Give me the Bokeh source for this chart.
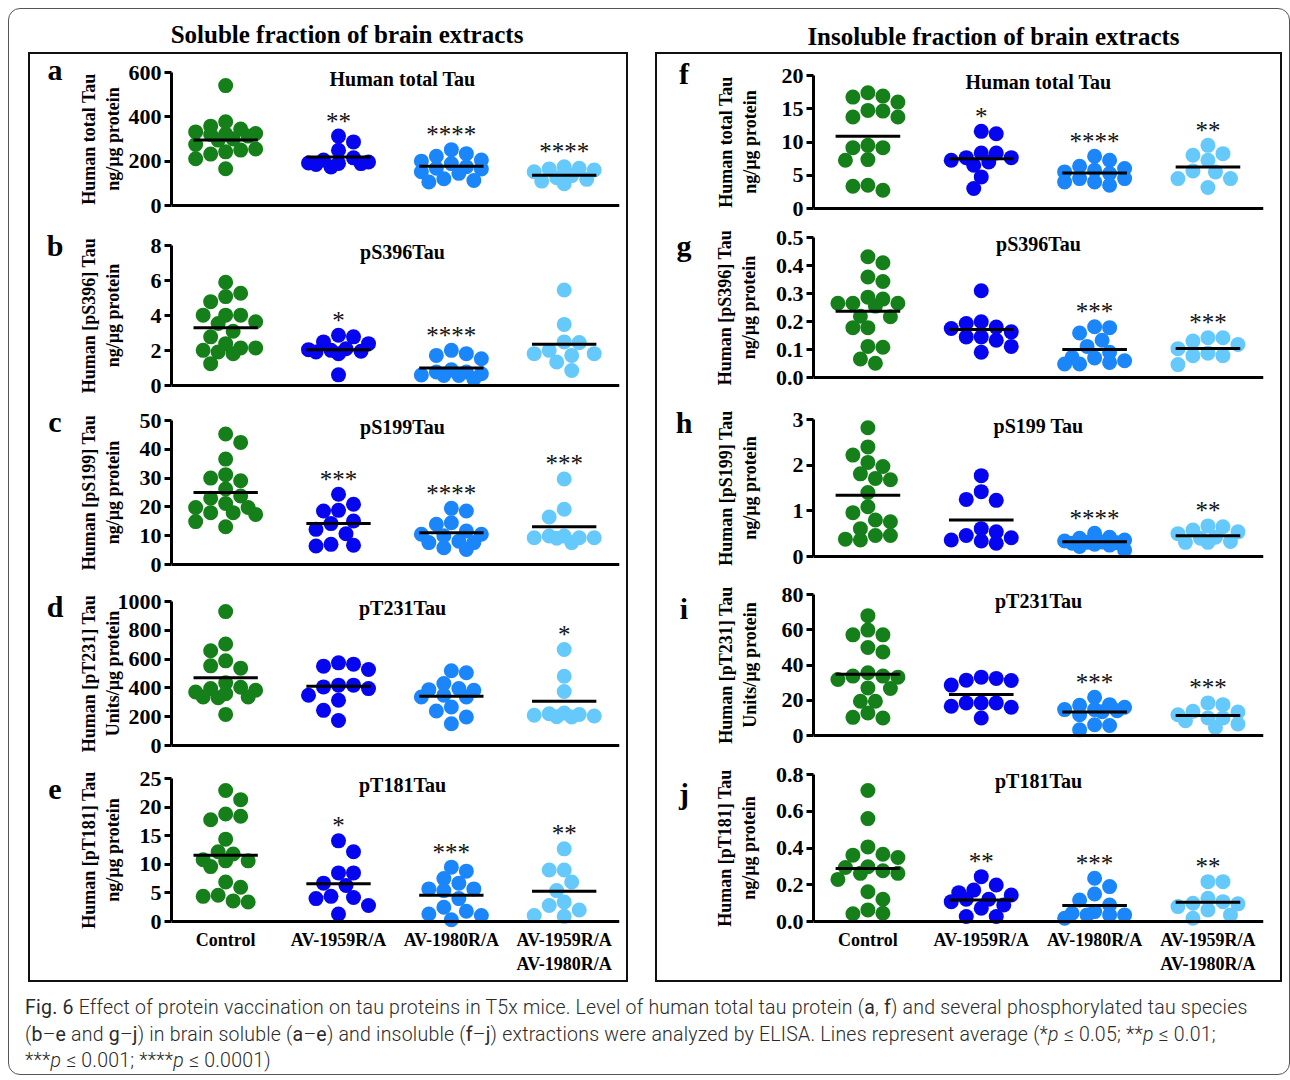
import math
from bokeh.plotting import figure
from bokeh.models import Range1d, Span, Label, FixedTicker, NumeralTickFormatter, Div, Spacer
from bokeh.layouts import column, row
from bokeh.embed import file_html
from bokeh.resources import INLINE
from bokeh.core.properties import value

# ---------------- data ----------------
groups = ["Control", "AV-1959R/A", "AV-1980R/A", "AV-1959R/A\nAV-1980R/A"]
group_colors = ["#15801a", "#0505f0", "#1a86fa", "#66c9fb"]

a_control = [541, 378, 358, 345, 332, 325, 322, 320, 313, 300, 295, 275, 255, 250, 242, 232, 211, 166]
a_1959 = [313, 287, 249, 215, 205, 196, 192, 190, 189, 185, 174]
a_1980 = [252, 234, 222, 205, 200, 189, 175, 168, 165, 152, 145, 121, 113, 106]
a_combo = [175, 168, 165, 160, 152, 135, 125, 118, 110, 98]
a_means = [295, 219, 177, 136]
a_stars = ["", "**", "****", "****"]

b_control = [5.9, 5.27, 5.08, 4.79, 4.02, 4.02, 4.02, 3.64, 3.54, 3.10, 2.78, 2.39, 2.15, 2.15, 2.01, 1.92, 1.82, 1.25]
b_1959 = [2.87, 2.78, 2.49, 2.39, 2.10, 2.05, 2.01, 1.96, 1.92, 1.82, 0.61]
b_1980 = [2.01, 1.82, 1.72, 1.53, 0.90, 0.77, 0.77, 0.67, 0.60, 0.57, 0.57, 0.38]
b_combo = [5.46, 3.49, 2.49, 2.45, 2.01, 1.82, 1.82, 1.72, 1.34, 0.86]
b_means = [3.30, 2.05, 1.00, 2.36]
b_stars = ["", "*", "****", ""]

c_control = [45.3, 42.4, 36.6, 31.2, 30.0, 29.1, 26.2, 23.8, 23.0, 21.2, 19.8, 19.8, 18.0, 18.0, 17.4, 14.9, 13.1]
c_1959 = [24.4, 20.9, 18.8, 18.6, 15.1, 14.2, 12.2, 10.7, 7.0, 6.7, 6.4]
c_1980 = [19.5, 18.6, 14.5, 14.0, 11.6, 10.5, 10.5, 10.0, 8.1, 7.6, 7.6, 5.8, 5.2]
c_combo = [29.7, 19.2, 16.5, 9.9, 9.9, 9.3, 9.3, 9.3, 9.1, 7.6]
c_means = [25.0, 14.2, 11.0, 13.1]
c_stars = ["", "***", "****", "***"]

d_control = [930, 705, 658, 588, 553, 537, 435, 405, 395, 384, 372, 360, 337, 337, 332, 216]
d_1959 = [574, 565, 551, 528, 419, 419, 407, 395, 349, 314, 244, 174]
d_1980 = [519, 505, 430, 395, 388, 384, 349, 337, 337, 267, 240, 198, 151]
d_combo = [667, 481, 375, 225, 220, 215, 210, 205, 200, 198]
d_means = [470, 412, 342, 307]
d_stars = ["", "", "", "*"]

e_control = [22.9, 21.3, 18.8, 18.4, 17.8, 14.4, 12.2, 11.8, 10.8, 10.6, 10.6, 9.6, 6.9, 6.0, 4.6, 4.4, 3.6, 3.4]
e_1959 = [14.1, 12.2, 8.5, 8.5, 6.7, 6.3, 4.4, 4.2, 4.0, 2.8, 1.3]
e_1980 = [9.5, 8.8, 7.5, 6.7, 5.7, 5.7, 5.4, 4.0, 2.5, 1.8, 1.3, 1.05, 0.3]
e_combo = [12.7, 9.0, 9.0, 6.9, 5.4, 3.4, 2.8, 2.0, 1.05, 0.9]
e_means = [11.6, 6.6, 4.6, 5.3]
e_stars = ["", "*", "***", "**"]

f_control = [17.4, 16.9, 16.75, 16.0, 14.75, 14.65, 13.75, 13.75, 9.5, 9.15, 9.15, 7.35, 7.25, 3.5, 3.35, 2.75]
f_1959 = [11.6, 11.25, 8.35, 8.35, 7.65, 7.65, 7.25, 7.0, 6.5, 4.75, 3.0]
f_1980 = [7.85, 7.25, 6.35, 6.0, 5.75, 5.5, 5.25, 4.5, 4.5, 4.0, 4.0, 3.5]
f_combo = [9.5, 8.25, 8.0, 7.25, 5.65, 5.5, 4.5, 4.5, 3.15]
f_means = [10.85, 7.5, 5.35, 6.25]
f_stars = ["", "*", "****", "**"]

g_control = [0.431, 0.41, 0.359, 0.343, 0.287, 0.28, 0.265, 0.265, 0.265, 0.255, 0.219, 0.217, 0.178, 0.178, 0.111, 0.108, 0.066, 0.051]
g_1959 = [0.31, 0.199, 0.193, 0.18, 0.175, 0.163, 0.145, 0.145, 0.133, 0.111, 0.09]
g_1980 = [0.181, 0.178, 0.159, 0.133, 0.111, 0.09, 0.072, 0.07, 0.06, 0.054, 0.048, 0.048]
g_combo = [0.142, 0.142, 0.13, 0.118, 0.103, 0.087, 0.078, 0.078, 0.046]
g_means = [0.237, 0.171, 0.10, 0.104]
g_stars = ["", "", "***", "***"]

h_control = [2.82, 2.40, 2.22, 2.06, 1.97, 1.81, 1.71, 1.68, 1.40, 1.09, 0.96, 0.80, 0.76, 0.61, 0.46, 0.46, 0.38, 0.36]
h_1959 = [1.77, 1.42, 1.25, 1.23, 0.61, 0.54, 0.46, 0.41, 0.36, 0.34, 0.29]
h_1980 = [0.51, 0.42, 0.40, 0.36, 0.34, 0.32, 0.31, 0.30, 0.29, 0.27, 0.25, 0.22, 0.14]
h_combo = [0.67, 0.65, 0.58, 0.54, 0.50, 0.42, 0.40, 0.33, 0.31, 0.31]
h_means = [1.34, 0.80, 0.325, 0.455]
h_stars = ["", "", "****", "**"]

i_control = [68.0, 59.8, 57.1, 57.1, 49.9, 47.4, 35.6, 33.7, 33.7, 33.1, 31.8, 27.0, 26.7, 19.4, 19.4, 12.8, 10.3, 9.9]
i_1959 = [33.1, 32.4, 31.4, 31.2, 28.6, 18.5, 18.5, 18.5, 16.6, 16.0, 9.9]
i_1980 = [21.7, 17.5, 17.1, 16.0, 14.7, 14.7, 14.1, 13.5, 11.8, 6.1, 5.7, 3.2]
i_combo = [18.5, 17.5, 13.7, 13.3, 11.8, 9.9, 9.9, 8.4, 6.5, 4.6]
i_means = [34.7, 23.2, 13.3, 11.4]
i_stars = ["", "", "***", "***"]

j_control = [0.713, 0.56, 0.406, 0.366, 0.361, 0.348, 0.298, 0.294, 0.276, 0.262, 0.262, 0.229, 0.162, 0.121, 0.063, 0.045, 0.042]
j_1959 = [0.244, 0.199, 0.171, 0.157, 0.144, 0.121, 0.121, 0.108, 0.09, 0.072, 0.027, 0.027]
j_1980 = [0.235, 0.19, 0.15, 0.117, 0.09, 0.054, 0.045, 0.036, 0.036, 0.036, 0.018]
j_combo = [0.217, 0.217, 0.126, 0.108, 0.099, 0.096, 0.081, 0.063, 0.036, 0.018]
j_means = [0.289, 0.117, 0.087, 0.105]
j_stars = ["", "**", "***", "**"]

panel_titles = ["Human total Tau", "pS396Tau", "pS199Tau", "pT231Tau", "pT181Tau",
                "Human total Tau", "pS396Tau", "pS199 Tau", "pT231Tau", "pT181Tau"]
ylabels_1 = ["Human total Tau", "Human [pS396] Tau", "Human [pS199] Tau", "Human [pT231] Tau", "Human [pT181] Tau"]
ylabels_2 = ["ng/µg protein", "ng/µg protein", "ng/µg protein", "Units/µg protein", "ng/µg protein"]
y_max = [600, 8, 50, 1000, 25, 20, 0.5, 3, 80, 0.8]
y_step = [200, 2, 10, 200, 5, 5, 0.1, 1, 20, 0.2]
y_fmt = ["0", "0", "0", "0", "0", "0", "0.0", "0", "0", "0.0"]
letters = ["a", "b", "c", "d", "e", "f", "g", "h", "i", "j"]

panel_vals = [
    [a_control, a_1959, a_1980, a_combo], [b_control, b_1959, b_1980, b_combo],
    [c_control, c_1959, c_1980, c_combo], [d_control, d_1959, d_1980, d_combo],
    [e_control, e_1959, e_1980, e_combo], [f_control, f_1959, f_1980, f_combo],
    [g_control, g_1959, g_1980, g_combo], [h_control, h_1959, h_1980, h_combo],
    [i_control, i_1959, i_1980, i_combo], [j_control, j_1959, j_1980, j_combo],
]
panel_means = [a_means, b_means, c_means, d_means, e_means, f_means, g_means, h_means, i_means, j_means]
panel_stars = [a_stars, b_stars, c_stars, d_stars, e_stars, f_stars, g_stars, h_stars, i_stars, j_stars]

# ---------------- layout constants (page pixels) ----------------
SERIF = "Liberation Serif"
TICK_PX = 22
PAD_T, PAD_B = 10, 10
DOT = 15
BOX_TOP, BOX_BOT = 54, 980
SIDES = [
    dict(inner_x0=30, inner_w=596, letter_w=40, letter_cx=55, fl=171, fr=619,
         rows=[(72, 205), (245, 385), (420, 564), (601, 745), (778, 921)],
         letter_base=[80, 256, 432, 617, 799], ylab2_x=115, title_dx=7),
    dict(inner_x0=657, inner_w=623, letter_w=45, letter_cx=684, fl=813, fr=1263,
         rows=[(75, 208), (237, 377), (419, 556), (594, 735), (774, 921)],
         letter_base=[84, 256, 433, 619, 804], ylab2_x=752, title_dx=0),
]
X0, X1 = -0.48, 3.49


def swarm(vals, ppu, diam=DOT, step=7.5, nmax=4):
    """Beeswarm layout: horizontal offsets (px) so that dots of equal value sit side by side."""
    order = sorted(range(len(vals)), key=lambda k: -vals[k])
    placed = []
    offs = [0.0] * len(vals)
    for n, k in enumerate(order):
        y = vals[k] * ppu
        sign = -1 if n % 2 == 0 else 1
        cands = [0.0]
        for m in range(1, nmax + 1):
            cands += [sign * m * step, -sign * m * step]
        best, bestd = 0.0, -1.0
        for c in cands:
            dmin = min([math.hypot(c - px, y - py) for px, py in placed], default=1e9)
            if dmin >= 0.9 * diam:
                best = c
                break
            if dmin > bestd:
                bestd, best = dmin, c
        placed.append((best, y))
        offs[k] = best
    return offs


def tick_label_width(pi):
    ymax = y_max[pi]
    txt = ("%.1f" % ymax) if y_fmt[pi] == "0.0" else str(int(ymax))
    return sum(0.25 * TICK_PX if ch == "." else 0.5 * TICK_PX for ch in txt)


def make_panel(pi, side, idx):
    rows_ = side["rows"]
    ft = [r[0] - PAD_T for r in rows_]
    fb = [r[1] + PAD_B for r in rows_]
    bnd = [BOX_TOP] + [(fb[k - 1] + ft[k]) // 2 for k in range(1, len(rows_))] + [BOX_BOT]
    top, bot = bnd[idx], bnd[idx + 1]
    frame_top, frame_bot = ft[idx], fb[idx]
    ymax_px, zero_px = rows_[idx]
    ymax = y_max[pi]
    ppu = (zero_px - ymax_px) / ymax
    fl, fr = side["fl"], side["fr"]
    ppx = (fr - fl) / (X1 - X0)
    last = idx == 4
    fig_x0 = side["inner_x0"] + side["letter_w"]
    fig_w = side["inner_w"] - side["letter_w"]

    p = figure(width=fig_w, height=bot - top,
               x_range=Range1d(X0, X1), y_range=Range1d(-PAD_B / ppu, ymax + PAD_T / ppu),
               x_axis_type="linear" if last else None,
               min_border_left=fl - fig_x0,
               min_border_right=fig_x0 + fig_w - fr,
               min_border_top=frame_top - top, min_border_bottom=bot - frame_bot,
               toolbar_location=None, tools="", output_backend="svg")
    p.outline_line_color = None
    p.background_fill_color = "white"
    p.border_fill_color = "white"
    for g in p.grid:
        g.visible = False

    ya = p.yaxis[0]
    nt = int(round(ymax / y_step[pi]))
    ya.ticker = FixedTicker(ticks=[round(k * y_step[pi], 6) for k in range(nt + 1)], minor_ticks=[])
    ya.formatter = NumeralTickFormatter(format=y_fmt[pi])
    ya.bounds = (0, ymax)
    ya.axis_line_width = 3
    ya.axis_line_color = "black"
    ya.major_tick_line_width = 3
    ya.major_tick_out = 7
    ya.major_tick_in = 0
    ya.minor_tick_line_color = None
    ya.major_label_text_font = SERIF
    ya.major_label_text_font_style = "bold"
    ya.major_label_text_font_size = f"{TICK_PX}px"
    ya.major_label_text_color = "black"
    ya.major_label_standoff = 3
    ya.axis_label = ylabels_1[idx] + "\n" + ylabels_2[idx]
    ya.axis_label_text_font = SERIF
    ya.axis_label_text_font_style = "bold"
    ya.axis_label_text_font_size = "18px"
    ya.axis_label_text_color = "black"
    ya.axis_label_standoff = int(round(fl - 10 - tick_label_width(pi) - (side["ylab2_x"] + 10)))

    if last:
        xa = p.xaxis[0]
        xa.ticker = FixedTicker(ticks=[0, 1, 2, 3], minor_ticks=[])
        xa.major_label_overrides = {k: g for k, g in enumerate(groups)}
        xa.axis_line_color = None
        xa.major_tick_line_color = None
        xa.minor_tick_line_color = None
        xa.major_label_text_font = SERIF
        xa.major_label_text_font_style = "bold"
        xa.major_label_text_font_size = "18px"
        xa.major_label_text_color = "black"
        xa.major_label_standoff = -8

    p.add_layout(Span(location=0, dimension="width", line_color="black", line_width=3))

    vals = panel_vals[pi]
    for gi, (v, col) in enumerate(zip(vals, group_colors)):
        offs = swarm(v, ppu)
        xs = [gi + o / ppx for o in offs]
        p.scatter(xs, v, size=DOT, fill_color=col, line_color=None)

    means = panel_means[pi]
    p.segment(x0=[k - 0.285 for k in range(4)], x1=[k + 0.285 for k in range(4)],
              y0=means, y1=means, line_width=3, line_color="black")

    stars = panel_stars[pi]
    sx = [k for k, s in enumerate(stars) if s]
    sy = [max(vals[k]) for k in sx]
    st = [stars[k] for k in sx]
    if sx:
        p.text(x=sx, y=sy, text=st, text_font=value(SERIF), text_font_size="25px",
               text_align="center", text_baseline="middle", y_offset=-15, text_color="#111")

    p.add_layout(Label(x=(fr - fl) / 2 + side["title_dx"], x_units="screen", y=ymax, y_units="data",
                       y_offset=-6, text=panel_titles[pi], text_align="center", text_baseline="middle",
                       text_font=SERIF, text_font_style="bold", text_font_size="20px", text_color="black"))

    pad = side["letter_base"][idx] - top - 25
    lpad = side["letter_cx"] - side["inner_x0"] - 15
    letter_div = Div(text=(f"<div style=\"width:30px;margin-left:{lpad}px;text-align:center;"
                           f"font-family:'Liberation Serif';font-weight:bold;font-size:30px;"
                           f"line-height:30px;color:#000;padding-top:{pad}px\">{letters[pi]}</div>"),
                     width=side["letter_w"], height=bot - top, margin=0)
    return row(letter_div, p)


left_rows = [make_panel(k, SIDES[0], k) for k in range(5)]
right_rows = [make_panel(5 + k, SIDES[1], k) for k in range(5)]

BOX_STYLE = {"border": "2px solid #111"}
left_box = column(*left_rows, styles=BOX_STYLE)
right_box = column(*right_rows, styles=BOX_STYLE)

title_css = ("font-family:'Liberation Serif';font-weight:bold;font-size:25px;color:#000;"
             "text-align:center;white-space:nowrap;box-sizing:border-box;")
left_title = Div(text=(f"<div style=\"{title_css}width:600px;padding-left:38px;padding-top:8px;\">"
                       "Soluble fraction of brain extracts</div>"),
                 width=600, height=43, margin=0)
right_title = Div(text=(f"<div style=\"{title_css}width:627px;padding-left:50px;padding-top:10px;\">"
                        "Insoluble fraction of brain extracts</div>"),
                  width=627, height=43, margin=0)

cap_css = ("font-family:Roboto;font-weight:300;font-size:19.5px;letter-spacing:0.22px;color:#2a2a2a;"
           "line-height:26.5px;white-space:nowrap;padding-left:16px;padding-top:13px;")
caption = Div(text=(
    f"<div style=\"{cap_css}\">"
    "<b>Fig. 6</b> Effect of protein vaccination on tau proteins in T5x mice. Level of human total tau protein "
    "(<b>a</b>, <b>f</b>) and several phosphorylated tau species<br>"
    "(<b>b</b>–<b>e</b> and <b>g</b>–<b>j</b>) in brain soluble (<b>a</b>–<b>e</b>) and insoluble "
    "(<b>f</b>–<b>j</b>) extractions were analyzed by ELISA. Lines represent average "
    "(*<i>p</i> ≤ 0.05; **<i>p</i> ≤ 0.01;<br>"
    "***<i>p</i> ≤ 0.001; ****<i>p</i> ≤ 0.0001)</div>"),
    width=1280, height=92, margin=0)

left_col = column(left_title, left_box)
right_col = column(right_title, right_box)
main = row(Spacer(width=19, height=10), left_col, Spacer(width=27, height=10), right_col,
           Spacer(width=7, height=10))

OUTER_STYLE = {"border": "1px solid #555", "border-radius": "12px"}
outer = column(main, caption, styles=OUTER_STYLE)
root = column(Spacer(width=10, height=8), row(Spacer(width=8, height=10), outer))

open("out.html", "w").write(file_html(root, INLINE))
